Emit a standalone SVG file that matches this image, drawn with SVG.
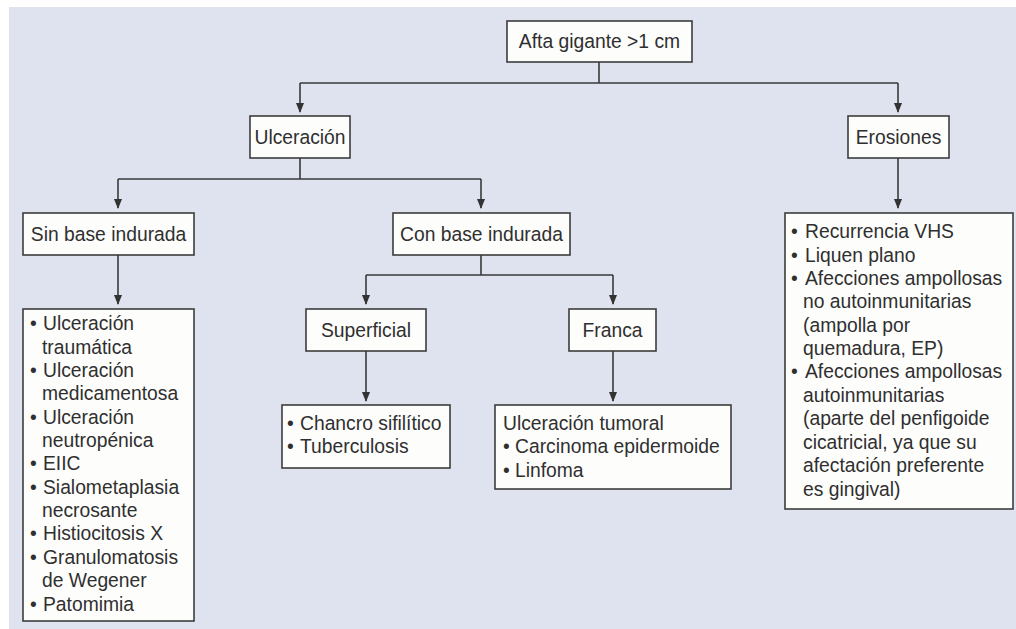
<svg xmlns="http://www.w3.org/2000/svg" width="1016" height="629" viewBox="0 0 1016 629">
<defs>
<marker id="ah" markerWidth="10" markerHeight="10" refX="9" refY="5" orient="auto" markerUnits="userSpaceOnUse">
<path d="M0,1 L10,5 L0,9 Z" fill="#333"/>
</marker>
<style>
.box{fill:#fdfdfc;stroke:#3c3c3c;stroke-width:1.6}
.t{font-family:"Liberation Sans",Arial,sans-serif;font-size:19.3px;fill:#2f2f2f}
.c{text-anchor:middle}
.ln{fill:none;stroke:#3a3a3a;stroke-width:1.6}
</style>
</defs>
<rect x="0" y="0" width="1016" height="629" fill="#ffffff"/>
<rect x="9" y="7" width="1007" height="622" fill="#dee3ef"/>

<g id="connectors">
<path class="ln" d="M599,62 V83 M300,83 H898"/>
<path class="ln" d="M300,83 V112" marker-end="url(#ah)"/>
<path class="ln" d="M898,83 V112" marker-end="url(#ah)"/>
<path class="ln" d="M300,158 V179 M118,179 H481"/>
<path class="ln" d="M118,179 V208" marker-end="url(#ah)"/>
<path class="ln" d="M481,179 V208" marker-end="url(#ah)"/>
<path class="ln" d="M118,255 V304" marker-end="url(#ah)"/>
<path class="ln" d="M481,255 V275 M366,275 H613"/>
<path class="ln" d="M366,275 V304" marker-end="url(#ah)"/>
<path class="ln" d="M613,275 V304" marker-end="url(#ah)"/>
<path class="ln" d="M366,351 V401" marker-end="url(#ah)"/>
<path class="ln" d="M613,351 V401" marker-end="url(#ah)"/>
<path class="ln" d="M898,158 V208" marker-end="url(#ah)"/>
</g>

<g id="root">
<rect class="box" x="507" y="21" width="185" height="41"/>
<text class="t c" x="599.5" y="48">Afta gigante &gt;1 cm</text>
</g>
<g id="ulceracion">
<rect class="box" x="250" y="116" width="100" height="42"/>
<text class="t c" x="300" y="144">Ulceración</text>
</g>
<g id="erosiones">
<rect class="box" x="848" y="116" width="101" height="42"/>
<text class="t c" x="898.5" y="144">Erosiones</text>
</g>
<g id="sin-base">
<rect class="box" x="23" y="213" width="171" height="42"/>
<text class="t c" x="108.5" y="241">Sin base indurada</text>
</g>
<g id="con-base">
<rect class="box" x="393" y="213" width="177" height="42"/>
<text class="t c" x="481.5" y="241">Con base indurada</text>
</g>
<g id="sin-base-list">
<rect class="box" x="23" y="309" width="171" height="312"/>
<text class="t" x="30" y="330">•</text><text class="t" x="43" y="330">Ulceración</text>
<text class="t" x="42" y="354">traumática</text>
<text class="t" x="30" y="377">•</text><text class="t" x="43" y="377">Ulceración</text>
<text class="t" x="42" y="400">medicamentosa</text>
<text class="t" x="30" y="424">•</text><text class="t" x="43" y="424">Ulceración</text>
<text class="t" x="42" y="447">neutropénica</text>
<text class="t" x="30" y="470">•</text><text class="t" x="43" y="470">EIIC</text>
<text class="t" x="30" y="494">•</text><text class="t" x="43" y="494">Sialometaplasia</text>
<text class="t" x="42" y="517">necrosante</text>
<text class="t" x="30" y="540">•</text><text class="t" x="43" y="540">Histiocitosis X</text>
<text class="t" x="30" y="564">•</text><text class="t" x="43" y="564">Granulomatosis</text>
<text class="t" x="42" y="587">de Wegener</text>
<text class="t" x="30" y="611">•</text><text class="t" x="43" y="611">Patomimia</text>
</g>
<g id="superficial">
<rect class="box" x="306" y="309" width="120" height="42"/>
<text class="t c" x="366" y="337">Superficial</text>
</g>
<g id="franca">
<rect class="box" x="569" y="309" width="87" height="42"/>
<text class="t c" x="612.5" y="337">Franca</text>
</g>
<g id="superficial-list">
<rect class="box" x="282" y="405" width="168" height="63"/>
<text class="t" x="287" y="430">•</text><text class="t" x="300" y="430">Chancro sifilítico</text>
<text class="t" x="287" y="453">•</text><text class="t" x="300" y="453">Tuberculosis</text>
</g>
<g id="franca-list">
<rect class="box" x="495" y="405" width="236" height="84"/>
<text class="t" x="503" y="430">Ulceración tumoral</text>
<text class="t" x="503" y="453">•</text><text class="t" x="515" y="453">Carcinoma epidermoide</text>
<text class="t" x="503" y="477">•</text><text class="t" x="515" y="477">Linfoma</text>
</g>
<g id="erosiones-list">
<rect class="box" x="785" y="213" width="228" height="296"/>
<text class="t" x="791" y="238">•</text><text class="t" x="805" y="238">Recurrencia VHS</text>
<text class="t" x="791" y="262">•</text><text class="t" x="805" y="262">Liquen plano</text>
<text class="t" x="791" y="285">•</text><text class="t" x="805" y="285">Afecciones ampollosas</text>
<text class="t" x="803" y="308">no autoinmunitarias</text>
<text class="t" x="803" y="332">(ampolla por</text>
<text class="t" x="803" y="355">quemadura, EP)</text>
<text class="t" x="791" y="378">•</text><text class="t" x="805" y="378">Afecciones ampollosas</text>
<text class="t" x="803" y="402">autoinmunitarias</text>
<text class="t" x="803" y="425">(aparte del penfigoide</text>
<text class="t" x="803" y="449">cicatricial, ya que su</text>
<text class="t" x="803" y="472">afectación preferente</text>
<text class="t" x="803" y="496">es gingival)</text>
</g>
</svg>
